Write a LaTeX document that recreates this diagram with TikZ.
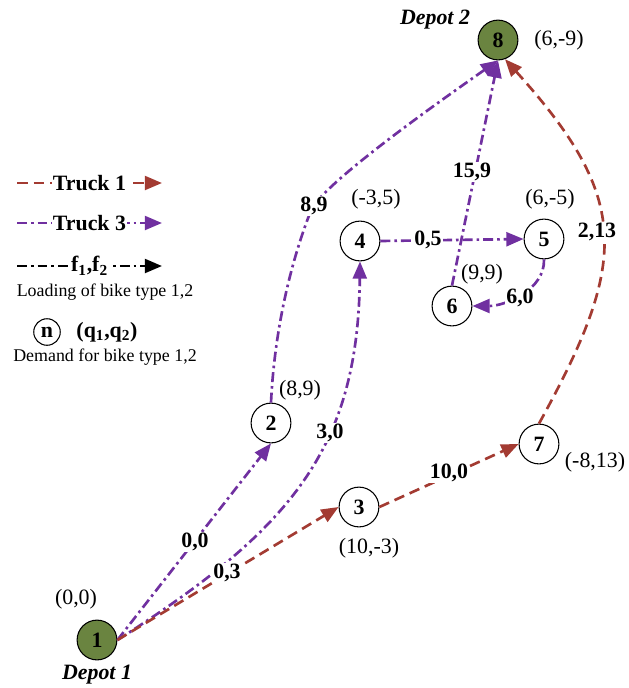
\documentclass[tikz,border=0pt]{standalone}
\usepackage{fontspec}
\setmainfont{Liberation Serif}
\usetikzlibrary{arrows.meta}
\definecolor{truckred}{HTML}{A33B32}
\definecolor{truckpurple}{HTML}{7030A0}
\definecolor{depot}{HTML}{6A8440}

\tikzset{
  stn/.style={circle, draw, line width=0.8pt, fill=white, minimum size=30pt,
    inner sep=0pt, font=\fontsize{16.5}{18}\selectfont\bfseries},
  depotstn/.style={stn, fill=depot},
  tip/.style={-{Triangle[length=13pt,width=10.5pt]}},
  tone/.style={tip, truckred, line width=2pt, dash pattern=on 8pt off 4.5pt},
  tthree/.style={tip, truckpurple, line width=2pt,
    dash pattern=on 7.5pt off 3pt on 2pt off 3pt},
  tkey/.style={tip, black, line width=2pt,
    dash pattern=on 7.5pt off 3pt on 2pt off 3pt},
  flow/.style={fill=white, inner sep=1pt, text=black,
    font=\fontsize{16.5}{18}\selectfont\bfseries},
  xy/.style={font=\fontsize{16.5}{18}\selectfont},
  note/.style={font=\fontsize{13.5}{15}\selectfont},
}

\begin{document}
\begin{tikzpicture}[x=0.0265cm, y=-0.0265cm]
\useasboundingbox (0,0) rectangle (629,688);
\newcommand{\keyrow}[4]{%
  \coordinate (#1a) at (17,#2);
  \coordinate (#1b) at (162,#2);
  \draw[#3] (#1a) -- node[flow] (#1) {#4} (#1b);}

% stations
\node[depotstn] (n1) at (97,640) {1};
\node[depotstn] (n8) at (498,40) {8};
\node[stn] (n2) at (271,423) {2};
\node[stn] (n3) at (359,507) {3};
\node[stn] (n4) at (360,241) {4};
\node[stn] (n5) at (544,239) {5};
\node[stn] (n6) at (452,306) {6};
\node[stn] (n7) at (539,444) {7};

% truck 3
\draw[tthree] (n1.east) -- (n2.south);
\draw[tthree] (n2.north) .. controls (275,320) and (295,250) .. (312,208)
  .. controls (330,180) and (420,115) .. (n8.south);
\draw[tthree] (n1.east) .. controls (290,530) and (358,450) .. (n4.south);
\draw[tthree] (n4.east) -- (n5.west);
\draw[tthree] (n5.south) .. controls (545,290) and (505,306) .. (n6.east);
\draw[tthree] (n6.north) -- (n8.south);

% truck 1
\draw[tone] (n1.east) -- (n3.west);
\draw[tone] (n3.east) -- (n7.west);
\draw[tone] (n7.north) .. controls (628,262) and (632,200) .. (n8.-70);

% loads on the arcs
\node[flow] (f12) at (195,542) {0,0};
\node[flow] (f13) at (227,573) {0,3};
\node[flow] (f14) at (330,433) {3,0};
\node[flow] (f28) at (314,206) {8,9};
\node[flow] (f37) at (449,473) {10,0};
\node[flow] (f45) at (428,240) {0,5};
\node[flow] (f56) at (520,298) {6,0};
\node[flow] (f68) at (472,172) {15,9};
\node[flow] (f78) at (597,232) {2,13};

% demands
\node[xy] (q1) at (76,599) {(0,0)};
\node[xy] (q8) at (559,40) {(6,-9)};
\node[xy] (q2) at (300,390) {(8,9)};
\node[xy] (q3) at (369,548) {(10,-3)};
\node[xy] (q4) at (376,199) {(-3,5)};
\node[xy] (q5) at (550,199) {(6,-5)};
\node[xy] (q6) at (482,274) {(9,9)};
\node[xy] (q7) at (595,462) {(-8,13)};
\node[xy, font=\fontsize{16.5}{18}\selectfont\bfseries\itshape] (d2) at (435,20) {Depot 2};
\node[xy, font=\fontsize{16.5}{18}\selectfont\bfseries\itshape] (d1) at (97,675) {Depot 1};

% legend
\keyrow{k1}{183}{tone}{Truck 1}
\keyrow{k3}{223}{tthree}{Truck 3}
\keyrow{kf}{266}{tkey}{f\textsubscript{1},f\textsubscript{2}}
\node[note] (kfn) at (105,292) {Loading of bike type 1,2};
\node[stn, minimum size=20pt] (kn) at (47,332) {n};
\node[flow, fill=none] (kq) at (107,332) {(q\textsubscript{1},q\textsubscript{2})};
\node[note] (kqn) at (105,357) {Demand for bike type 1,2};
\end{tikzpicture}
\end{document}
